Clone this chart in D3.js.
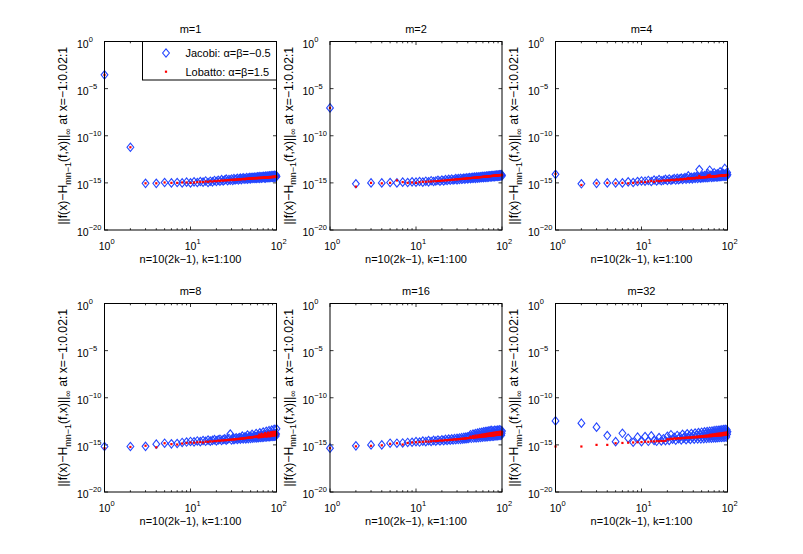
<!DOCTYPE html>
<html><head><meta charset="utf-8">
<script src="https://cdn.jsdelivr.net/npm/d3@7"></script>
<style>html,body{margin:0;padding:0;background:#fff;} svg{display:block;font-family:"Liberation Sans",Arial,Helvetica,sans-serif;}</style>
</head><body>
<svg id="c" width="803" height="554"></svg>
<script>
const K = d3.range(1, 101); // k = 1:100
const panelTitles = ["m=1", "m=2", "m=4", "m=8", "m=16", "m=32"];
const xTickValues = [1, 10, 100];
const xTickExps = ["0", "1", "2"];
const yTickValues = [1, 1e-5, 1e-10, 1e-15, 1e-20];
const yTickExps = ["0", "\u22125", "\u221210", "\u221215", "\u221220"];
const legendLabels = ["Jacobi: \u03b1=\u03b2=\u22120.5", "Lobatto: \u03b1=\u03b2=1.5"];

const jacobi_m1 = [2.9e-4,6.0e-12,9.0e-16,9.0e-16,1.1e-15,1.0e-15,1.1e-15,1.0e-15,1.2e-15,1.0e-15,
1.3e-15,1.1e-15,1.4e-15,1.2e-15,1.6e-15,1.1e-15,1.5e-15,1.3e-15,1.8e-15,1.4e-15,
1.9e-15,1.5e-15,2.2e-15,1.6e-15,2.0e-15,2.5e-15,1.7e-15,2.3e-15,1.9e-15,2.6e-15,
1.8e-15,2.8e-15,2.1e-15,2.4e-15,3.0e-15,2.0e-15,2.7e-15,3.2e-15,2.2e-15,2.9e-15,
3.4e-15,2.4e-15,3.1e-15,2.6e-15,3.6e-15,2.5e-15,3.3e-15,2.8e-15,3.8e-15,2.7e-15,
3.5e-15,4.0e-15,2.9e-15,3.7e-15,3.0e-15,4.2e-15,3.2e-15,3.9e-15,2.9e-15,4.4e-15,
3.3e-15,4.1e-15,3.0e-15,4.6e-15,3.5e-15,4.3e-15,3.1e-15,4.8e-15,3.6e-15,4.0e-15,
5.0e-15,3.4e-15,4.5e-15,3.2e-15,5.2e-15,3.8e-15,4.7e-15,3.5e-15,5.4e-15,3.9e-15,
4.9e-15,3.6e-15,5.6e-15,4.1e-15,5.1e-15,3.7e-15,5.8e-15,4.2e-15,5.3e-15,3.8e-15,
6.0e-15,4.4e-15,5.5e-15,3.9e-15,6.2e-15,4.6e-15,5.7e-15,4.0e-15,6.4e-15,4.8e-15];
const lobatto_m1 = [2.9e-4,6.0e-12,9.0e-16,9.0e-16,1.1e-15,1.0e-15,1.0e-15,1.1e-15,1.1e-15,1.0e-15,
1.1e-15,1.2e-15,1.3e-15,1.2e-15,1.4e-15,1.3e-15,1.5e-15,1.4e-15,1.6e-15,1.5e-15,
1.7e-15,1.6e-15,1.8e-15,1.7e-15,1.9e-15,1.8e-15,2.0e-15,1.9e-15,2.1e-15,2.0e-15,
2.2e-15,2.0e-15,2.3e-15,2.1e-15,2.4e-15,2.2e-15,2.5e-15,2.3e-15,2.4e-15,2.6e-15,
2.5e-15,2.7e-15,2.4e-15,2.8e-15,2.6e-15,2.9e-15,2.7e-15,3.0e-15,2.8e-15,2.9e-15,
3.1e-15,2.8e-15,3.2e-15,2.9e-15,3.3e-15,3.0e-15,3.1e-15,3.4e-15,3.0e-15,3.2e-15,
3.5e-15,3.1e-15,3.3e-15,3.6e-15,3.2e-15,3.4e-15,3.7e-15,3.3e-15,3.5e-15,3.8e-15,
3.4e-15,3.6e-15,3.9e-15,3.5e-15,3.7e-15,4.0e-15,3.6e-15,3.8e-15,4.1e-15,3.7e-15,
3.9e-15,4.2e-15,3.8e-15,4.0e-15,4.3e-15,3.9e-15,4.1e-15,4.4e-15,4.0e-15,4.2e-15,
4.5e-15,4.1e-15,4.3e-15,4.6e-15,4.2e-15,4.4e-15,4.7e-15,4.3e-15,4.5e-15,4.4e-15];

const jacobi_m2 = [9.0e-8,8.0e-16,1.0e-15,1.0e-15,1.1e-15,1.0e-15,1.2e-15,1.1e-15,1.3e-15,1.2e-15,
1.4e-15,1.2e-15,1.5e-15,1.3e-15,1.7e-15,1.4e-15,1.6e-15,1.9e-15,1.5e-15,2.0e-15,
1.6e-15,2.2e-15,1.8e-15,2.4e-15,1.9e-15,2.6e-15,2.0e-15,2.3e-15,2.8e-15,2.1e-15,
2.9e-15,2.3e-15,3.1e-15,2.4e-15,2.7e-15,3.3e-15,2.5e-15,3.0e-15,3.5e-15,2.6e-15,
3.2e-15,3.7e-15,2.8e-15,3.4e-15,3.9e-15,2.9e-15,3.6e-15,4.1e-15,3.0e-15,3.8e-15,
4.3e-15,3.2e-15,3.9e-15,4.5e-15,3.3e-15,4.1e-15,4.7e-15,3.5e-15,4.3e-15,4.9e-15,
3.6e-15,4.5e-15,5.1e-15,3.8e-15,4.6e-15,5.3e-15,3.9e-15,4.8e-15,5.5e-15,4.0e-15,
5.0e-15,5.7e-15,4.2e-15,5.2e-15,5.9e-15,4.3e-15,5.3e-15,6.1e-15,4.5e-15,5.5e-15,
6.3e-15,4.6e-15,5.7e-15,6.5e-15,4.8e-15,5.8e-15,6.7e-15,4.9e-15,6.0e-15,6.9e-15,
5.1e-15,6.2e-15,7.1e-15,5.2e-15,6.4e-15,7.3e-15,5.4e-15,6.6e-15,7.5e-15,5.6e-15];
const lobatto_m2 = [9.0e-8,4.0e-16,1.0e-15,9.0e-16,1.0e-15,1.8e-15,1.2e-15,1.0e-15,1.1e-15,1.0e-15,
1.2e-15,1.3e-15,1.3e-15,1.4e-15,1.4e-15,1.5e-15,1.5e-15,1.6e-15,1.6e-15,1.7e-15,
1.8e-15,1.8e-15,1.9e-15,2.0e-15,2.0e-15,2.1e-15,2.2e-15,2.2e-15,2.3e-15,2.4e-15,
2.4e-15,2.5e-15,2.6e-15,2.6e-15,2.7e-15,2.8e-15,2.8e-15,2.9e-15,3.0e-15,3.0e-15,
3.1e-15,3.2e-15,3.2e-15,3.3e-15,3.4e-15,3.4e-15,3.5e-15,3.6e-15,3.6e-15,3.7e-15,
3.8e-15,3.7e-15,3.9e-15,4.0e-15,3.9e-15,4.1e-15,4.2e-15,4.1e-15,4.3e-15,4.4e-15,
4.3e-15,4.5e-15,4.6e-15,4.5e-15,4.7e-15,4.8e-15,4.7e-15,4.9e-15,5.0e-15,4.9e-15,
5.1e-15,5.2e-15,5.1e-15,5.3e-15,5.4e-15,5.3e-15,5.5e-15,5.6e-15,5.5e-15,5.7e-15,
5.8e-15,5.7e-15,5.9e-15,6.0e-15,5.9e-15,6.1e-15,6.2e-15,6.1e-15,6.3e-15,6.4e-15,
6.3e-15,6.5e-15,6.6e-15,6.5e-15,6.7e-15,6.8e-15,6.7e-15,6.9e-15,7.0e-15,6.9e-15];

const jacobi_m4 = [8.0e-15,8.0e-16,9.0e-16,1.0e-15,1.0e-15,1.0e-15,1.3e-15,1.1e-15,1.4e-15,1.6e-15,
1.5e-15,1.8e-15,1.4e-15,2.0e-15,1.6e-15,2.2e-15,1.7e-15,1.9e-15,2.4e-15,1.8e-15,
2.6e-15,1.9e-15,2.3e-15,2.8e-15,2.0e-15,3.0e-15,2.2e-15,2.7e-15,3.3e-15,2.3e-15,
2.9e-15,3.6e-15,2.4e-15,3.1e-15,5.5e-15,2.6e-15,3.4e-15,4.0e-15,2.7e-15,3.5e-15,
4.4e-15,2.9e-15,3.8e-15,5.0e-15,3.0e-15,4.0e-15,2.6e-14,3.4e-15,3.2e-15,4.3e-15,
5.2e-15,3.3e-15,4.5e-15,6.0e-15,3.5e-15,4.7e-15,5.6e-15,3.6e-15,1.0e-14,4.9e-15,
3.8e-15,2.2e-14,5.1e-15,6.4e-15,3.9e-15,5.3e-15,7.0e-15,4.0e-15,5.5e-15,1.2e-14,
4.2e-15,5.7e-15,7.4e-15,4.3e-15,5.9e-15,9.0e-15,4.4e-15,6.1e-15,7.8e-15,4.6e-15,
6.3e-15,1.5e-14,4.7e-15,6.5e-15,8.2e-15,4.8e-15,6.7e-15,1.1e-14,5.0e-15,6.9e-15,
8.6e-15,5.1e-15,3.4e-14,7.1e-15,5.2e-15,9.0e-15,7.3e-15,5.4e-15,1.3e-14,7.5e-15];
const lobatto_m4 = [9.0e-15,6.0e-16,9.0e-16,1.0e-15,9.0e-16,1.0e-15,9.0e-16,1.0e-15,1.1e-15,1.3e-15,
1.2e-15,1.4e-15,1.6e-15,1.3e-15,1.7e-15,1.5e-15,1.6e-15,1.8e-15,1.7e-15,1.9e-15,
1.8e-15,2.0e-15,2.1e-15,1.9e-15,2.2e-15,2.3e-15,2.1e-15,2.4e-15,2.5e-15,2.3e-15,
2.6e-15,2.7e-15,2.5e-15,2.8e-15,3.2e-15,2.7e-15,3.0e-15,3.1e-15,2.9e-15,3.2e-15,
3.3e-15,3.0e-15,3.4e-15,3.6e-15,3.2e-15,3.5e-15,5.5e-15,3.4e-15,3.7e-15,3.8e-15,
3.6e-15,3.9e-15,4.0e-15,3.8e-15,4.1e-15,4.2e-15,3.9e-15,4.3e-15,6.0e-15,4.1e-15,
4.4e-15,7.0e-15,4.3e-15,4.6e-15,4.7e-15,4.4e-15,4.8e-15,4.9e-15,4.6e-15,5.0e-15,
5.1e-15,4.8e-15,5.2e-15,5.3e-15,5.0e-15,5.4e-15,5.5e-15,5.2e-15,5.6e-15,5.7e-15,
5.4e-15,5.8e-15,5.9e-15,5.6e-15,6.0e-15,6.1e-15,5.8e-15,6.2e-15,6.3e-15,6.0e-15,
6.4e-15,6.5e-15,6.2e-15,6.6e-15,6.7e-15,6.4e-15,6.8e-15,6.9e-15,6.6e-15,7.0e-15];

const jacobi_m8 = [6.7e-16,6.7e-16,7.0e-16,1.2e-15,1.5e-15,1.3e-15,1.4e-15,1.8e-15,2.0e-15,2.3e-15,
2.1e-15,2.6e-15,2.2e-15,2.9e-15,2.4e-15,3.2e-15,2.5e-15,3.0e-15,3.6e-15,2.7e-15,
3.4e-15,4.0e-15,2.9e-15,3.7e-15,4.4e-15,3.1e-15,4.0e-15,4.8e-15,1.4e-14,3.3e-15,
5.2e-15,3.6e-15,4.6e-15,5.6e-15,3.8e-15,4.9e-15,6.0e-15,4.0e-15,5.3e-15,8.5e-15,
4.2e-15,5.7e-15,7.0e-15,4.4e-15,6.1e-15,1.1e-14,4.6e-15,6.5e-15,8.0e-15,4.9e-15,
6.9e-15,1.3e-14,5.1e-15,7.3e-15,9.0e-15,5.3e-15,7.7e-15,1.6e-14,5.6e-15,8.1e-15,
1.0e-14,5.8e-15,8.5e-15,1.9e-14,6.0e-15,8.9e-15,1.1e-14,6.3e-15,9.3e-15,2.3e-14,
6.5e-15,9.7e-15,1.2e-14,6.8e-15,1.0e-14,2.7e-14,7.0e-15,1.05e-14,1.3e-14,7.3e-15,
1.1e-14,3.2e-14,7.5e-15,1.15e-14,1.4e-14,7.8e-15,1.2e-14,3.8e-14,8.0e-15,1.25e-14,
1.5e-14,8.3e-15,1.3e-14,4.5e-14,8.5e-15,1.35e-14,1.6e-14,8.8e-15,1.4e-14,5.0e-14];
const lobatto_m8 = [4.5e-16,6.0e-16,8.0e-16,5.5e-16,1.5e-15,1.2e-15,1.1e-15,1.4e-15,1.6e-15,1.8e-15,
1.7e-15,1.9e-15,2.0e-15,1.8e-15,2.2e-15,2.1e-15,2.4e-15,2.3e-15,2.6e-15,2.5e-15,
2.8e-15,2.7e-15,3.0e-15,2.9e-15,3.2e-15,3.1e-15,3.4e-15,3.3e-15,3.6e-15,3.5e-15,
3.8e-15,3.7e-15,4.0e-15,3.9e-15,4.3e-15,4.1e-15,4.5e-15,4.4e-15,4.8e-15,4.6e-15,
5.0e-15,4.9e-15,5.3e-15,5.1e-15,5.6e-15,5.4e-15,5.9e-15,5.7e-15,6.2e-15,6.0e-15,
6.5e-15,6.3e-15,6.8e-15,6.6e-15,7.1e-15,6.9e-15,7.4e-15,7.2e-15,7.8e-15,7.5e-15,
8.1e-15,6.0e-15,1.2e-14,7.2e-15,1.0e-14,6.6e-15,1.5e-14,8.0e-15,9.7e-15,7.0e-15,
1.3e-14,7.8e-15,1.05e-14,1.8e-14,8.2e-15,1.1e-14,7.5e-15,1.4e-14,9.0e-15,2.0e-14,
1.0e-14,8.0e-15,1.6e-14,1.1e-14,8.5e-15,2.2e-14,1.2e-14,9.0e-15,1.7e-14,1.0e-14,
2.4e-14,1.3e-14,9.5e-15,1.8e-14,1.1e-14,2.5e-14,1.4e-14,1.0e-14,1.9e-14,1.2e-14];

const jacobi_m16 = [4.5e-16,7.9e-16,1.0e-15,1.0e-15,1.5e-15,1.5e-15,1.6e-15,1.8e-15,1.9e-15,2.2e-15,
2.0e-15,2.5e-15,2.2e-15,2.8e-15,2.3e-15,3.0e-15,2.5e-15,3.3e-15,2.6e-15,3.5e-15,
2.8e-15,3.8e-15,3.0e-15,4.1e-15,3.1e-15,4.4e-15,3.3e-15,4.7e-15,3.5e-15,5.0e-15,
3.7e-15,5.4e-15,3.9e-15,5.8e-15,4.1e-15,6.2e-15,4.3e-15,6.6e-15,4.5e-15,7.0e-15,
4.8e-15,7.5e-15,1.2e-14,5.0e-15,8.0e-15,1.4e-14,5.3e-15,8.5e-15,1.6e-14,5.6e-15,
9.0e-15,1.8e-14,5.9e-15,9.5e-15,2.0e-14,6.2e-15,1.0e-14,2.2e-14,6.5e-15,1.05e-14,
2.4e-14,6.8e-15,1.1e-14,2.6e-14,7.1e-15,1.15e-14,2.8e-14,7.4e-15,1.2e-14,3.0e-14,
7.7e-15,1.25e-14,3.2e-14,8.0e-15,1.3e-14,3.4e-14,8.3e-15,1.35e-14,3.0e-14,8.6e-15,
1.4e-14,3.6e-14,8.9e-15,1.45e-14,3.2e-14,9.2e-15,1.5e-14,3.8e-14,9.5e-15,1.55e-14,
3.4e-14,9.8e-15,1.6e-14,4.0e-14,1.0e-14,1.65e-14,3.5e-14,1.05e-14,1.7e-14,3.0e-14];
const lobatto_m16 = [4.5e-16,7.0e-16,8.0e-16,9.0e-16,1.3e-15,1.5e-15,1.1e-15,1.6e-15,1.8e-15,1.9e-15,
2.0e-15,2.1e-15,2.3e-15,2.2e-15,2.4e-15,2.6e-15,2.5e-15,2.7e-15,2.9e-15,2.8e-15,
3.0e-15,3.2e-15,3.1e-15,3.3e-15,3.5e-15,3.4e-15,3.6e-15,3.8e-15,3.7e-15,3.9e-15,
4.1e-15,4.0e-15,4.3e-15,4.5e-15,4.4e-15,4.7e-15,4.9e-15,4.8e-15,5.1e-15,5.3e-15,
5.2e-15,5.6e-15,7.5e-15,5.5e-15,6.0e-15,8.5e-15,5.8e-15,6.4e-15,9.5e-15,6.2e-15,
6.8e-15,1.0e-14,6.5e-15,7.2e-15,1.1e-14,6.9e-15,7.6e-15,1.2e-14,7.3e-15,8.0e-15,
1.3e-14,7.7e-15,8.4e-15,1.4e-14,8.1e-15,8.8e-15,1.5e-14,8.5e-15,9.2e-15,1.6e-14,
8.9e-15,9.6e-15,1.7e-14,9.3e-15,1.0e-14,1.8e-14,9.7e-15,1.05e-14,1.9e-14,1.0e-14,
1.1e-14,2.0e-14,1.05e-14,1.15e-14,2.1e-14,1.1e-14,1.2e-14,2.2e-14,1.15e-14,1.25e-14,
2.3e-14,1.2e-14,1.3e-14,2.4e-14,1.25e-14,1.35e-14,2.5e-14,1.3e-14,1.4e-14,2.2e-14];

const jacobi_m32 = [3.5e-13,2.0e-13,7.6e-14,9.8e-15,2.2e-15,1.7e-14,5.1e-15,1.9e-15,6.6e-15,2.2e-15,
7.6e-15,2.4e-15,9.0e-15,3.0e-15,2.4e-15,6.0e-15,2.6e-15,4.5e-15,2.8e-15,8.0e-15,
3.0e-15,1.2e-14,4.0e-15,6.5e-15,3.2e-15,1.0e-14,4.5e-15,7.0e-15,3.4e-15,1.3e-14,
5.0e-15,8.0e-15,3.6e-15,1.5e-14,5.5e-15,9.0e-15,3.8e-15,1.6e-14,6.0e-15,1.0e-14,
4.0e-15,1.8e-14,6.5e-15,1.1e-14,4.2e-15,2.0e-14,7.0e-15,1.2e-14,4.4e-15,2.2e-14,
7.5e-15,1.3e-14,4.6e-15,2.4e-14,8.0e-15,1.4e-14,4.8e-15,2.6e-14,8.5e-15,1.5e-14,
5.0e-15,2.8e-14,9.0e-15,1.6e-14,5.2e-15,3.0e-14,9.5e-15,1.7e-14,5.4e-15,3.2e-14,
1.0e-14,1.8e-14,5.6e-15,3.4e-14,1.05e-14,1.9e-14,5.8e-15,3.6e-14,1.1e-14,2.0e-14,
6.0e-15,3.8e-14,1.15e-14,2.1e-14,6.2e-15,4.0e-14,1.2e-14,2.2e-14,6.4e-15,4.2e-14,
1.25e-14,2.3e-14,6.6e-15,4.4e-14,1.3e-14,2.4e-14,6.8e-15,4.0e-14,1.35e-14,2.5e-14];
const lobatto_m32 = [6.7e-16,6.7e-16,1.0e-15,1.0e-15,1.5e-15,1.6e-15,1.7e-15,1.8e-15,1.9e-15,2.0e-15,
2.2e-15,2.1e-15,2.4e-15,2.3e-15,2.5e-15,2.4e-15,2.6e-15,2.5e-15,2.7e-15,4.0e-15,
3.8e-15,4.5e-15,4.2e-15,5.0e-15,4.4e-15,4.8e-15,5.2e-15,4.6e-15,5.4e-15,5.0e-15,
5.6e-15,5.2e-15,6.0e-15,5.4e-15,6.2e-15,5.6e-15,6.5e-15,5.8e-15,6.8e-15,6.0e-15,
7.0e-15,6.2e-15,7.3e-15,6.4e-15,7.6e-15,6.6e-15,7.9e-15,6.8e-15,8.2e-15,7.0e-15,
8.5e-15,7.2e-15,8.8e-15,7.4e-15,9.1e-15,7.6e-15,9.4e-15,7.8e-15,9.7e-15,8.0e-15,
1.0e-14,8.2e-15,1.2e-14,8.4e-15,1.05e-14,8.6e-15,1.3e-14,8.8e-15,1.1e-14,9.0e-15,
1.4e-14,9.2e-15,1.15e-14,9.4e-15,1.5e-14,9.6e-15,1.2e-14,9.8e-15,1.6e-14,1.0e-14,
1.25e-14,1.0e-14,1.7e-14,1.05e-14,1.3e-14,1.05e-14,1.8e-14,1.1e-14,1.35e-14,1.1e-14,
1.9e-14,1.15e-14,1.4e-14,1.15e-14,2.0e-14,1.2e-14,1.45e-14,1.2e-14,2.1e-14,1.25e-14];

const jacobiSeries = [jacobi_m1, jacobi_m2, jacobi_m4, jacobi_m8, jacobi_m16, jacobi_m32];
const lobattoSeries = [lobatto_m1, lobatto_m2, lobatto_m4, lobatto_m8, lobatto_m16, lobatto_m32];

const svg = d3.select("#c");
const lefts = [104.5, 330, 555.5];
const tops = [41.5, 303.5];
const W = 172, H = 188.5;
const blue = "#2446ff", red = "#ff0000";
const diamond = "M0,-4.2L3.4,0L0,4.2L-3.4,0Z";

panelTitles.forEach((title, i) => {
  const ox = lefts[i % 3], oy = tops[Math.floor(i / 3)];
  const g = svg.append("g").attr("transform", `translate(${ox},${oy})`);
  const x = d3.scaleLog().domain([1, 100]).range([0, W]);
  const y = d3.scaleLog().domain([1e-20, 1]).range([H, 0]);

  g.append("rect").attr("width", W).attr("height", H).attr("fill", "#fff");

  const minor = [];
  for (let d = 1; d < 100; d *= 10) for (let m = 2; m <= 9; m++) minor.push(d * m);
  const tickG = g.append("g").attr("stroke", "#000").attr("stroke-width", 0.8);
  minor.forEach(v => {
    tickG.append("line").attr("x1", x(v)).attr("x2", x(v)).attr("y1", H).attr("y2", H - 1.8);
    tickG.append("line").attr("x1", x(v)).attr("x2", x(v)).attr("y1", 0).attr("y2", 1.8);
  });
  xTickValues.forEach(v => {
    tickG.append("line").attr("x1", x(v)).attr("x2", x(v)).attr("y1", H).attr("y2", H - 3.5);
    tickG.append("line").attr("x1", x(v)).attr("x2", x(v)).attr("y1", 0).attr("y2", 3.5);
  });
  yTickValues.forEach(v => {
    tickG.append("line").attr("x1", 0).attr("x2", 3.5).attr("y1", y(v)).attr("y2", y(v));
    tickG.append("line").attr("x1", W).attr("x2", W - 3.5).attr("y1", y(v)).attr("y2", y(v));
  });

  xTickValues.forEach((v, j) => {
    const t = g.append("text").attr("x", x(v) - 5.8).attr("y", H + 20).attr("font-size", 10.5).attr("fill", "#000");
    t.append("tspan").text("10");
    t.append("tspan").attr("font-size", 7.5).attr("dy", -6).text(xTickExps[j]);
  });
  yTickValues.forEach((v, j) => {
    const t = g.append("text").attr("x", -27.5).attr("y", y(v) + 6).attr("font-size", 10.5).attr("fill", "#000");
    t.append("tspan").text("10");
    t.append("tspan").attr("font-size", 7.5).attr("dy", -6).text(yTickExps[j]);
  });

  const J = jacobiSeries[i], L = lobattoSeries[i];
  g.append("g").selectAll("path").data(K).join("path")
    .attr("d", diamond)
    .attr("transform", k => `translate(${x(k)},${y(J[k - 1])})`)
    .attr("fill", "none").attr("stroke", blue).attr("stroke-width", 1.1);
  g.append("g").selectAll("rect").data(K).join("rect")
    .attr("x", k => x(k) - 1.1).attr("y", k => y(L[k - 1]) - 1.1)
    .attr("width", 2.2).attr("height", 2.2).attr("fill", red);

  g.append("rect").attr("width", W).attr("height", H).attr("fill", "none").attr("stroke", "#000").attr("stroke-width", 1);

  g.append("text").attr("x", W / 2).attr("y", -9).attr("text-anchor", "middle").attr("font-size", 11).text(title);
  g.append("text").attr("x", W / 2).attr("y", H + 32.5).attr("text-anchor", "middle").attr("font-size", 11).text("n=10(2k\u22121), k=1:100");
  const yl = g.append("text").attr("transform", `translate(-37.5,${H / 2}) rotate(-90)`)
    .attr("text-anchor", "middle").attr("font-size", 12.2);
  yl.append("tspan").text("||f(x)\u2212H");
  yl.append("tspan").attr("font-size", 9).attr("dy", 3.5).text("mn\u22121");
  yl.append("tspan").attr("dy", -3.5).text("(f,x)||");
  yl.append("tspan").attr("font-size", 9).attr("dy", 3.5).text("\u221e");
  yl.append("tspan").attr("dy", -3.5).text(" at x=\u22121:0.02:1");

  if (i === 0) {
    const lg = g.append("g").attr("transform", `translate(${38},0)`);
    lg.append("rect").attr("width", W - 38).attr("height", 38.5).attr("fill", "#fff").attr("stroke", "#000").attr("stroke-width", 1);
    lg.append("path").attr("d", diamond).attr("transform", "translate(23.5,11.5)").attr("fill", "none").attr("stroke", blue).attr("stroke-width", 1.1);
    lg.append("rect").attr("x", 22.4).attr("y", 29.1).attr("width", 2.2).attr("height", 2.2).attr("fill", red);
    lg.append("text").attr("x", 43).attr("y", 15.5).attr("font-size", 11).text(legendLabels[0]);
    lg.append("text").attr("x", 43).attr("y", 34).attr("font-size", 11).text(legendLabels[1]);
  }
});
</script>
</body></html>
